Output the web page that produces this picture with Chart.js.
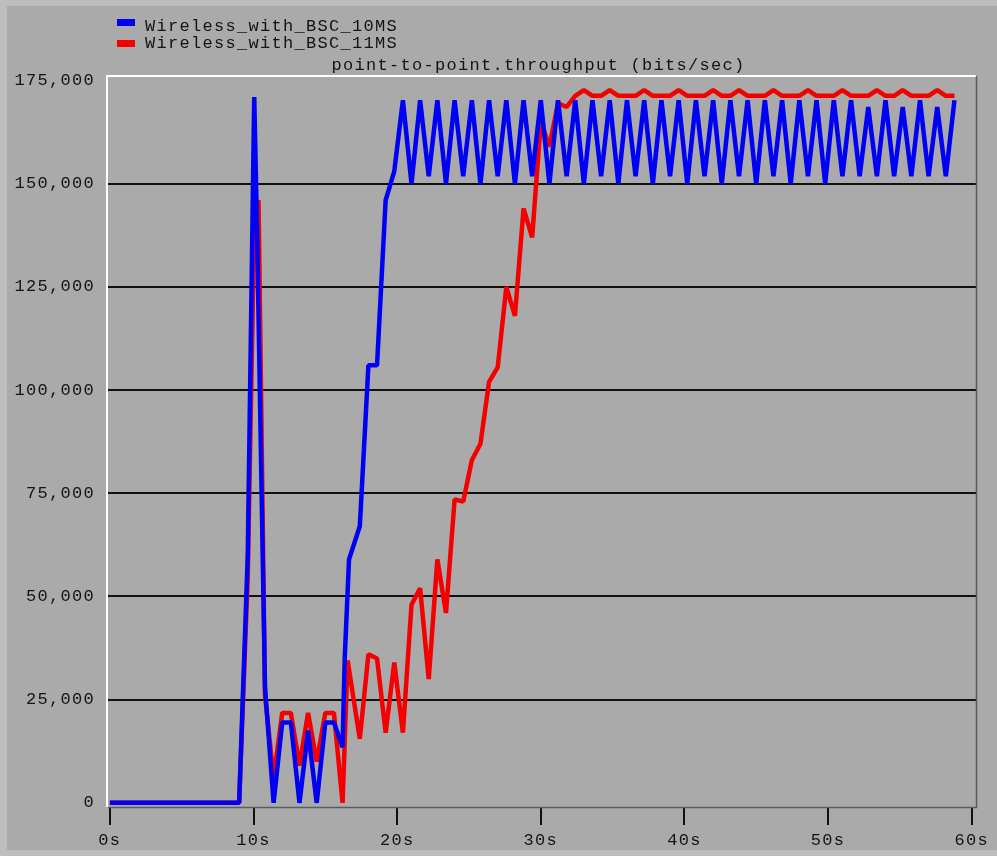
<!DOCTYPE html>
<html>
<head>
<meta charset="utf-8">
<script src="https://cdn.jsdelivr.net/npm/chart.js@4/dist/chart.umd.min.js"></script>
<style>
  html, body { margin: 0; padding: 0; background: #aaaaaa; }
  canvas { display: block; }
</style>
</head>
<body>
<canvas id="c" width="997" height="856"></canvas>
<script>
// ---- text ----
const chartTitle = 'point-to-point.throughput (bits/sec)';
const seriesNames = ['Wireless_with_BSC_10MS', 'Wireless_with_BSC_11MS'];

// ---- tick labels ----
const xTickValues = [0, 10, 20, 30, 40, 50, 60];
const yTickValues = [0, 25000, 50000, 75000, 100000, 125000, 150000, 175000];

// ---- series: Wireless_with_BSC_10MS (blue) ----
const blueTimes = [
  0.0, 9.0, 9.6, 10.05, 10.25, 10.8, 11.4, 12.0, 12.6, 13.2, 13.8, 14.4, 15.0, 15.6, 16.2,
  16.35, 16.65, 17.4, 18.0, 18.6, 19.2, 19.8, 20.4, 21.0, 21.6, 22.2, 22.8, 23.4, 24.0, 24.6,
  25.2, 25.8, 26.4, 27.0, 27.6, 28.2, 28.8, 29.4, 30.0, 30.6, 31.2, 31.8, 32.4, 33.0,
  33.6, 34.2, 34.8, 35.4, 36.0, 36.6, 37.2, 37.8, 38.4, 39.0, 39.6, 40.2, 40.8, 41.4,
  42.0, 42.6, 43.2, 43.8, 44.4, 45.0, 45.6, 46.2, 46.8, 47.4, 48.0, 48.6, 49.2, 49.8,
  50.4, 51.0, 51.6, 52.2, 52.8, 53.4, 54.0, 54.6, 55.2, 55.8, 56.4, 57.0, 57.6, 58.2, 58.8
];
const blueValues = [
  0, 0, 60000, 171000, 138000, 28000, 0, 19500, 19500, 0, 17500, 0, 19500, 19500, 13500,
  35000, 59000, 67000, 106000, 106000, 146000, 153000, 170200, 150000, 170200, 151800, 170200, 150000, 170200, 151800,
  170200, 150000, 170200, 151800, 170200, 150000, 170200, 151800, 170200, 150000, 170200, 151800, 170200, 150000,
  170200, 151800, 170200, 150000, 170200, 151800, 170200, 150000, 170200, 151800, 170200, 150000, 170200, 151800,
  170200, 150000, 170200, 151800, 170200, 150000, 170200, 151800, 170200, 150000, 170200, 151800, 170200, 150000,
  170200, 151800, 170200, 151800, 168600, 151800, 170200, 151800, 168600, 151800, 170200, 151800, 168600, 151800, 170200
];

// ---- series: Wireless_with_BSC_11MS (red) ----
const redTimes = [
  0.0, 9.0, 9.6, 10.05, 10.35, 10.8, 11.4, 12.0, 12.6, 13.2, 13.8, 14.4, 15.0, 15.6, 16.2,
  16.55, 17.4, 18.0, 18.6, 19.2, 19.8, 20.4, 21.0, 21.6, 22.2, 22.8, 23.4, 24.0, 24.6,
  25.2, 25.8, 26.4, 27.0, 27.6, 28.2, 28.8, 29.4, 30.0, 30.6, 31.2, 31.8, 32.4, 33.0,
  33.6, 34.2, 34.8, 35.4, 36.0, 36.6, 37.2, 37.8, 38.4, 39.0, 39.6, 40.2, 40.8, 41.4,
  42.0, 42.6, 43.2, 43.8, 44.4, 45.0, 45.6, 46.2, 46.8, 47.4, 48.0, 48.6, 49.2, 49.8,
  50.4, 51.0, 51.6, 52.2, 52.8, 53.4, 54.0, 54.6, 55.2, 55.8, 56.4, 57.0, 57.6, 58.2, 58.8
];
const redValues = [
  0, 0, 55000, 140000, 146000, 26000, 6000, 21800, 21800, 9000, 21800, 10000, 21800, 21800, 0,
  34500, 15500, 36000, 35000, 17000, 34000, 17000, 48000, 52000, 30000, 59000, 46000, 73500, 73000,
  83000, 87000, 102000, 105500, 125000, 118000, 144000, 137000, 165000, 159000, 169500, 168600, 171300, 172700,
  171300, 171300, 172700, 171300, 171300, 171300, 172700, 171300, 171300, 171300, 172700, 171300, 171300, 171300,
  172700, 171300, 171300, 172700, 171300, 171300, 171300, 172700, 171300, 171300, 171300, 172700, 171300, 171300,
  171300, 172700, 171300, 171300, 171300, 172700, 171300, 171300, 172700, 171300, 171300, 171300, 172700, 171300, 171300
];

// ---- styles ----
const FONT_FAMILY = '"Liberation Mono", "DejaVu Sans Mono", monospace';
const FONT_SIZE = 17;
const LETTER_SPACING = '1.3px';
const TEXT_COLOR = '#141414';
const BG_COLOR = '#aaaaaa';
const EDGE_COLOR = '#bdbdbd';
const BLUE = '#0000f4';
const RED = '#f40000';
const LINE_WIDTH = 4.5;

function toPoints(xs, ys) {
  return xs.map((x, i) => ({ x: x, y: ys[i] }));
}

const spacingPlugin = {
  id: 'spacing',
  beforeLayout(chart) { chart.ctx.letterSpacing = LETTER_SPACING; },
  beforeDraw(chart) { chart.ctx.letterSpacing = LETTER_SPACING; }
};

const backgroundPlugin = {
  id: 'bg',
  beforeDraw(chart) {
    const ctx = chart.ctx, w = chart.width, h = chart.height;
    ctx.save();
    ctx.fillStyle = BG_COLOR;
    ctx.fillRect(0, 0, w, h);
    ctx.fillStyle = EDGE_COLOR;
    ctx.fillRect(0, 0, w, 6);
    ctx.fillRect(0, 0, 7, h);
    ctx.fillRect(0, h - 6, w, 6);
    ctx.restore();
  }
};

const framePlugin = {
  id: 'frame',
  afterDraw(chart) {
    const ctx = chart.ctx, a = chart.chartArea;
    ctx.save();
    ctx.strokeStyle = '#ffffff';
    ctx.lineWidth = 2;
    ctx.beginPath();
    ctx.moveTo(a.left, a.bottom);
    ctx.lineTo(a.left, a.top);
    ctx.lineTo(a.right, a.top);
    ctx.stroke();
    ctx.strokeStyle = '#5c5c5c';
    ctx.lineWidth = 1.5;
    ctx.beginPath();
    ctx.moveTo(a.right + 0.5, a.top);
    ctx.lineTo(a.right + 0.5, a.bottom + 0.5);
    ctx.lineTo(a.left + 1, a.bottom + 0.5);
    ctx.stroke();
    ctx.restore();
  }
};

const legendTitlePlugin = {
  id: 'legendTitle',
  afterDraw(chart) {
    const ctx = chart.ctx, a = chart.chartArea;
    ctx.save();
    ctx.letterSpacing = LETTER_SPACING;
    ctx.font = FONT_SIZE + 'px ' + FONT_FAMILY;
    ctx.fillStyle = TEXT_COLOR;
    ctx.textAlign = 'center';
    ctx.textBaseline = 'alphabetic';
    ctx.fillText(chartTitle, (a.left + a.right) / 2 - 3, 70);
    const boxTops = [19, 40];
    const baselines = [31, 48];
    chart.data.datasets.forEach((ds, i) => {
      ctx.fillStyle = ds.borderColor;
      ctx.fillRect(117, boxTops[i], 18, 7);
      ctx.fillStyle = TEXT_COLOR;
      ctx.textAlign = 'left';
      ctx.fillText(ds.label, 145, baselines[i]);
    });
    ctx.restore();
  }
};

new Chart(document.getElementById('c'), {
  type: 'line',
  data: {
    datasets: [
      {
        label: seriesNames[0],
        data: toPoints(blueTimes, blueValues),
        borderColor: BLUE,
        backgroundColor: BLUE,
        borderWidth: LINE_WIDTH,
        pointRadius: 0,
        tension: 0,
        fill: false,
        borderJoinStyle: 'bevel',
        borderCapStyle: 'butt'
      },
      {
        label: seriesNames[1],
        data: toPoints(redTimes, redValues),
        borderColor: RED,
        backgroundColor: RED,
        borderWidth: LINE_WIDTH,
        pointRadius: 0,
        tension: 0,
        fill: false,
        borderJoinStyle: 'bevel',
        borderCapStyle: 'butt'
      }
    ]
  },
  options: {
    responsive: false,
    animation: false,
    devicePixelRatio: 1,
    layout: { padding: { left: 0, top: 76, right: 21, bottom: 0 } },
    plugins: {
      legend: { display: false },
      title: { display: false },
      tooltip: { enabled: false }
    },
    scales: {
      x: {
        type: 'linear',
        min: -0.2,
        max: 60.3,
        afterBuildTicks: (s) => { s.ticks = xTickValues.map(v => ({ value: v })); },
        afterFit: (s) => { s.height = 49; },
        grid: { drawOnChartArea: false, drawTicks: true, tickLength: 18, color: '#111111', lineWidth: 2 },
        border: { display: false },
        ticks: {
          font: { family: FONT_FAMILY, size: FONT_SIZE },
          color: TEXT_COLOR,
          padding: 5,
          maxRotation: 0,
          autoSkip: false,
          callback: (v) => v + 's'
        }
      },
      y: {
        type: 'linear',
        min: -1000,
        max: 176100,
        afterBuildTicks: (s) => { s.ticks = yTickValues.map(v => ({ value: v })); },
        afterFit: (s) => { s.width = 107; },
        grid: {
          drawTicks: false,
          lineWidth: 2,
          color: (c) => (c.tick && (c.tick.value === 0 || c.tick.value === 175000)) ? 'rgba(0,0,0,0)' : '#111111'
        },
        border: { display: false },
        ticks: {
          font: { family: FONT_FAMILY, size: FONT_SIZE },
          color: TEXT_COLOR,
          padding: 12,
          autoSkip: false,
          callback: (v) => Number(v).toLocaleString('en-US')
        }
      }
    }
  },
  plugins: [spacingPlugin, backgroundPlugin, framePlugin, legendTitlePlugin]
});
</script>
</body>
</html>
